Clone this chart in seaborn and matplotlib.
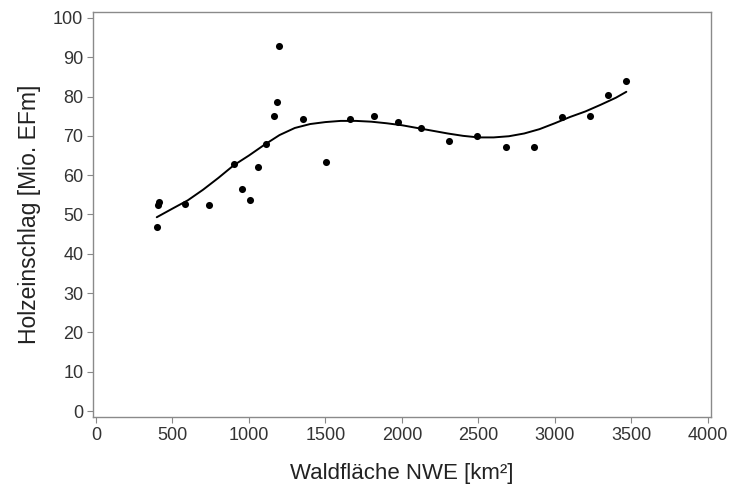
import matplotlib
matplotlib.use("Agg")
import matplotlib.pyplot as plt
import pandas as pd
import seaborn as sns

# observed points (Waldfläche NWE in km², Holzeinschlag in Mio. EFm)
area_km2 = [397, 407, 414, 580, 741, 904, 956, 1009, 1061, 1113, 1166, 1181, 1194,
            1351, 1506, 1663, 1817, 1972, 2123, 2309, 2494, 2680, 2863, 3050, 3233,
            3349, 3468]
harvest = [46.8, 52.3, 53.2, 52.6, 52.4, 62.8, 56.4, 53.6, 62.0, 68.0, 75.1, 78.7, 92.9,
           74.2, 63.4, 74.4, 75.1, 73.4, 72.1, 68.7, 70.0, 67.2, 67.2, 74.9, 75.1,
           80.5, 83.9]

# fitted curve
curve_x = [397, 500, 600, 700, 800, 900, 1000, 1100, 1200, 1300, 1400, 1500, 1600,
           1700, 1800, 1900, 2000, 2100, 2200, 2300, 2400, 2500, 2600, 2700, 2800,
           2900, 3000, 3100, 3200, 3300, 3400, 3468]
curve_y = [49.3, 51.5, 53.6, 56.3, 59.3, 62.5, 65.0, 67.7, 70.2, 72.0, 73.0, 73.5, 73.8,
           73.8, 73.6, 73.2, 72.7, 72.0, 71.3, 70.6, 70.0, 69.6, 69.6, 69.9, 70.6,
           71.7, 73.2, 74.8, 76.2, 77.9, 79.7, 81.2]

sns.set_style("ticks")
plt.rcParams["font.family"] = ["Liberation Sans", "DejaVu Sans"]

points = pd.DataFrame({"x": area_km2, "y": harvest})
fit = pd.DataFrame({"x": curve_x, "y": curve_y})

fig = plt.figure(figsize=(7.35, 4.95), dpi=100)
ax = fig.add_axes([0.1265, 0.1576, 0.8405, 0.8182])

sns.lineplot(data=fit, x="x", y="y", ax=ax, color="black", linewidth=1.4, sort=False)
sns.scatterplot(data=points, x="x", y="y", ax=ax, color="black", s=26,
                edgecolor="black", linewidth=0, zorder=3)

ax.set_xlim(-20, 4020)
ax.set_ylim(-1.5, 101.5)
ax.set_xticks(range(0, 4001, 500))
ax.set_yticks(range(0, 101, 10))
ax.set_xlabel("Waldfläche NWE [km²]", fontsize=16, labelpad=14, color="#222222")
ax.set_ylabel("Holzeinschlag [Mio. EFm]", fontsize=16.5, labelpad=9, color="#222222")
ax.tick_params(labelsize=13, length=4, width=0.8, color="#888888",
               labelcolor="#333333", pad=3)
for side in ["left", "right", "top", "bottom"]:
    ax.spines[side].set_visible(True)
    ax.spines[side].set_color("#8a8a8a")
    ax.spines[side].set_linewidth(1.0)

fig.savefig("out.png", dpi=100, facecolor="white")
